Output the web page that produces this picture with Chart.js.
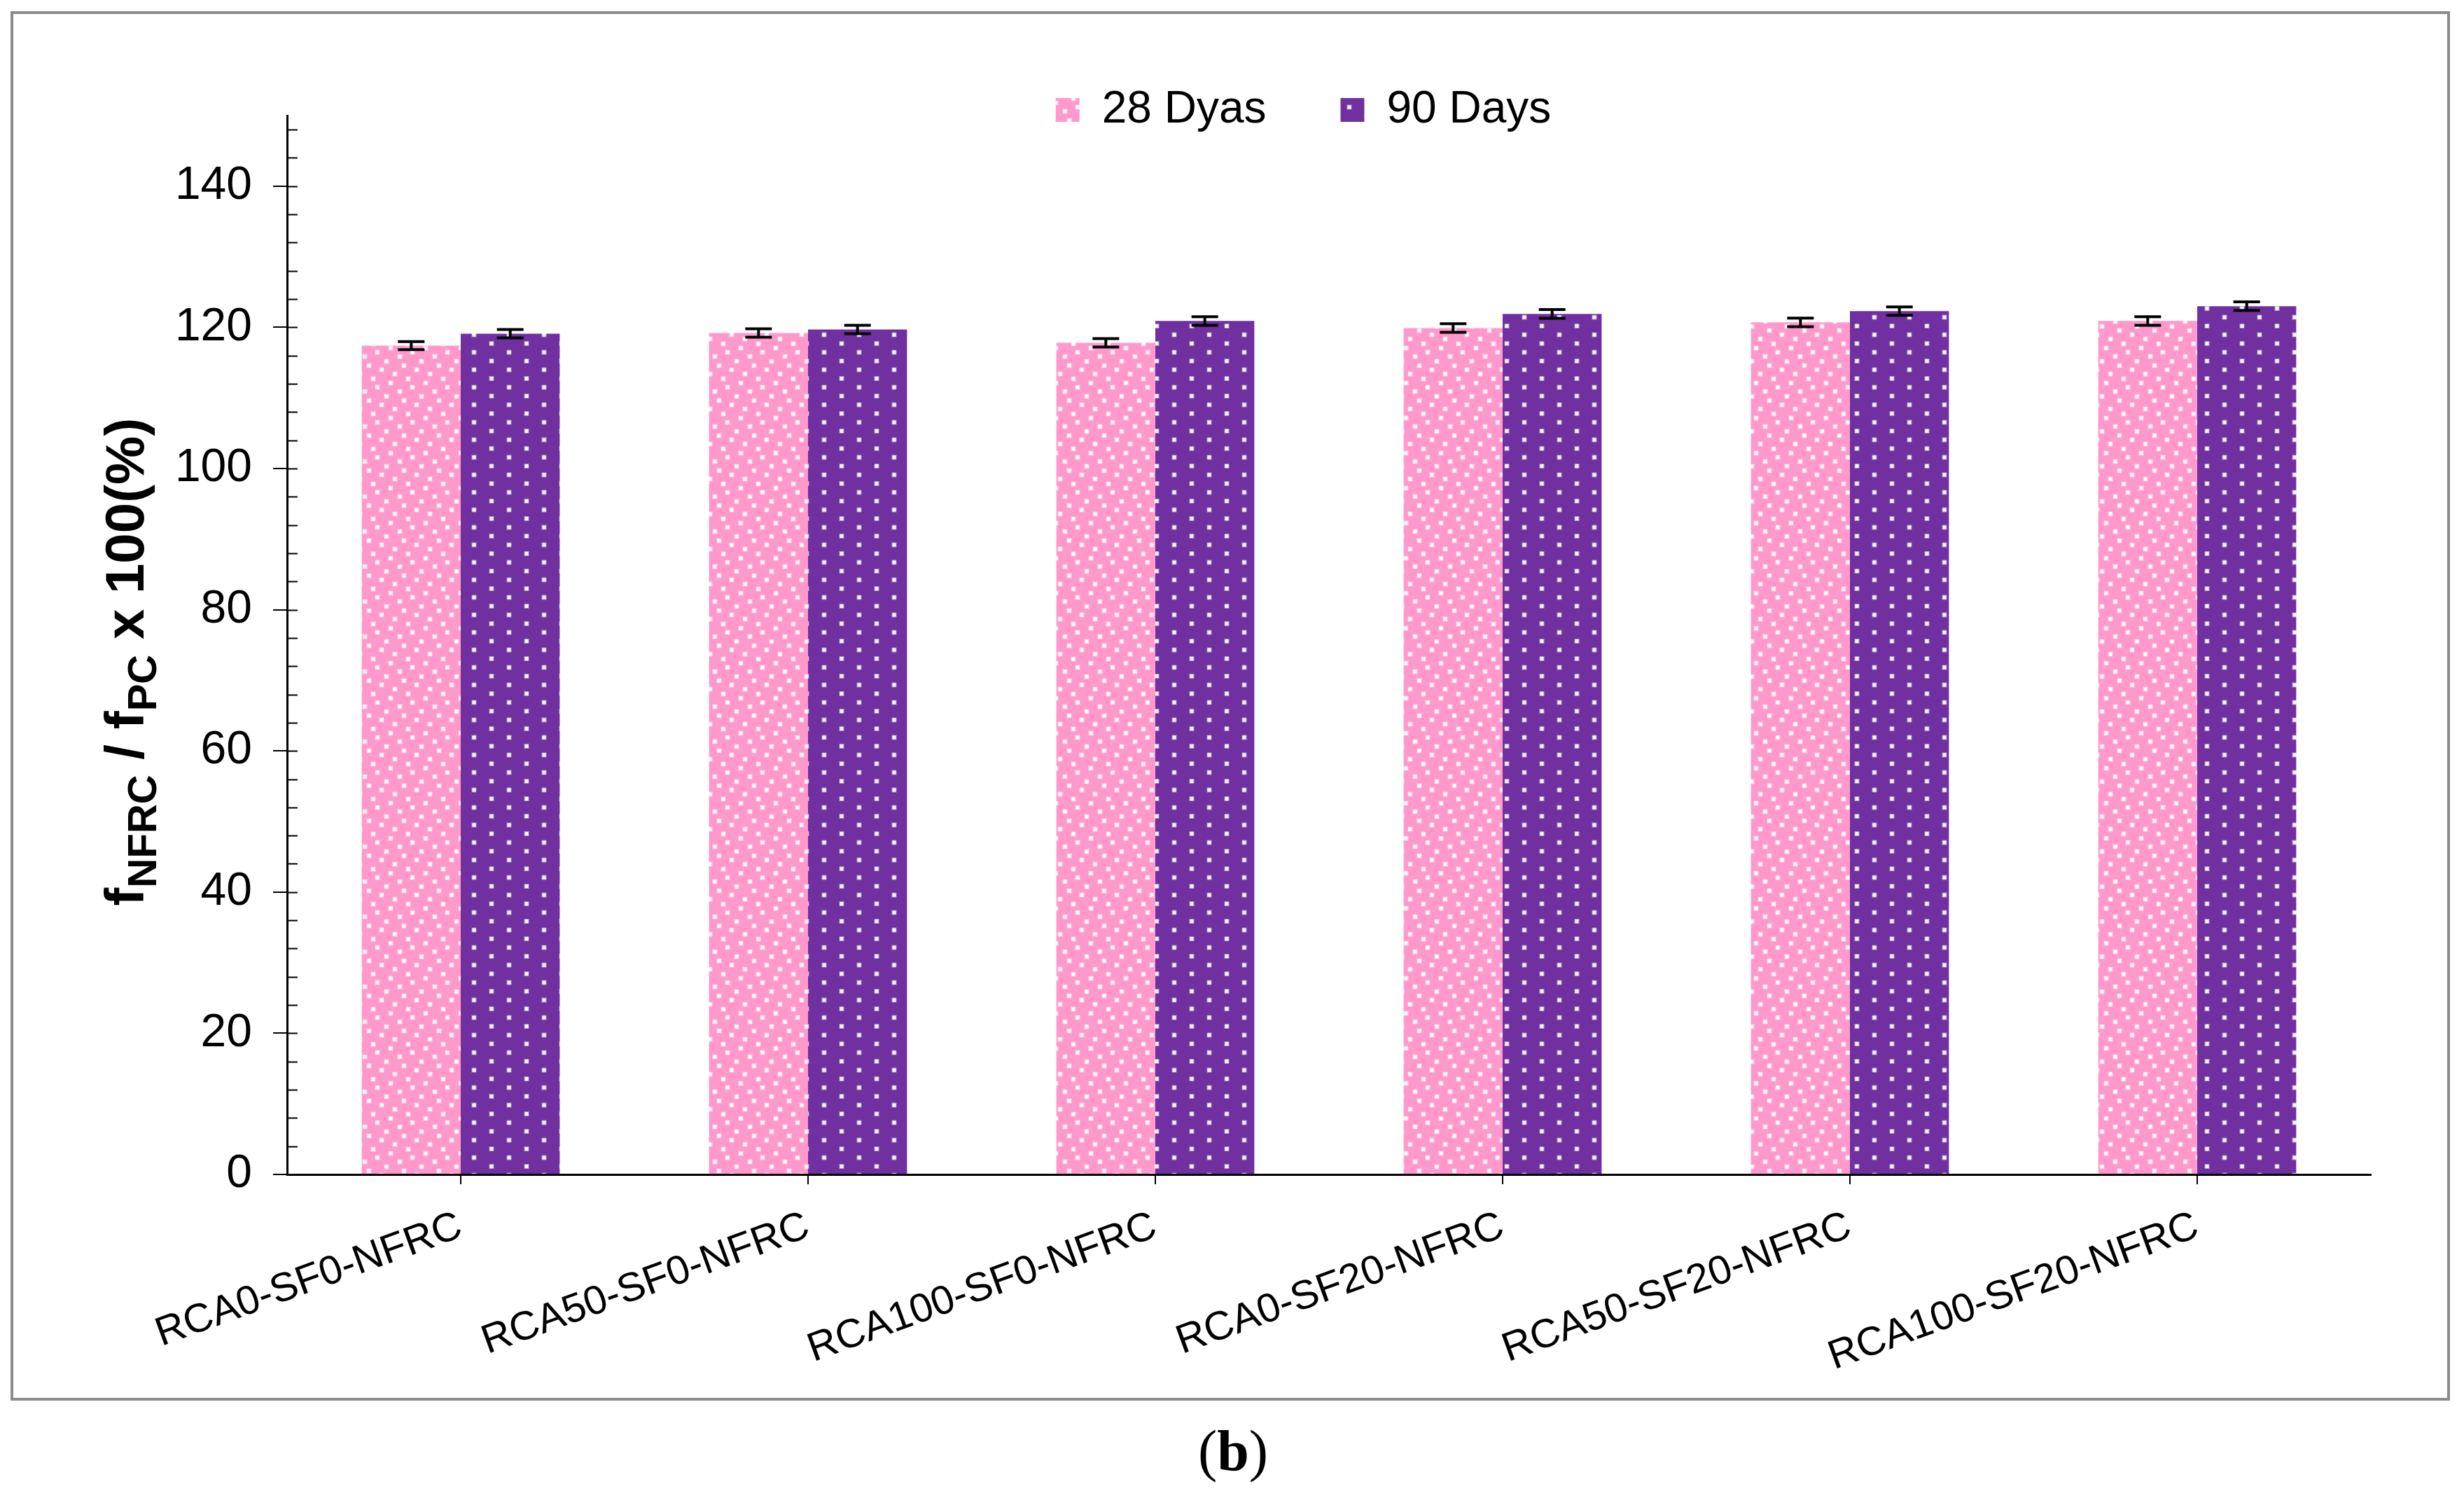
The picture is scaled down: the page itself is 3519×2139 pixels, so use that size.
<!DOCTYPE html>
<html>
<head>
<meta charset="utf-8">
<script src="https://cdn.jsdelivr.net/npm/chart.js@4.4.1/dist/chart.umd.min.js"></script>
<style>
  html, body { margin: 0; padding: 0; background: #fff; }
  body { width: 3519px; height: 2139px; position: relative; overflow: hidden; }
  #frame { position: absolute; left: 15px; top: 16px; width: 3484px; height: 1984px;
           border: 4px solid #8c8c8c; box-sizing: border-box; }
  #chart { position: absolute; left: 0; top: 0; }
  #caption { position: absolute; left: 0; width: 3522px; top: 2031px; text-align: center;
             font-family: "Liberation Serif", "DejaVu Serif", serif; font-size: 82px; line-height: 82px; }
</style>
</head>
<body>
<div id="frame"></div>
<canvas id="chart" width="3519" height="2139"></canvas>
<div id="caption">(<b>b</b>)</div>
<script>
// Data
const categories = ['RCA0-SF0-NFRC', 'RCA50-SF0-NFRC', 'RCA100-SF0-NFRC', 'RCA0-SF20-NFRC', 'RCA50-SF20-NFRC', 'RCA100-SF20-NFRC'];
const days28 = [117.4, 119.2, 117.8, 119.9, 120.7, 120.9];
const days90 = [119.1, 119.7, 120.9, 121.9, 122.3, 123.0];
const err28 = [0.57, 0.6, 0.6, 0.6, 0.6, 0.6];
const err90 = [0.6, 0.6, 0.6, 0.63, 0.6, 0.6];
const seriesLabels = ['28 Dyas', '90 Days'];

const PINK = '#ff99cc';
const PURPLE = '#7030a0';
const FONT = '"Liberation Sans", Arial, sans-serif';

// dotted fills like the Excel pattern
function dot(c, x, y) {
    c.fillStyle = 'rgba(255,255,255,0.45)';
    c.fillRect(x - 3.5, y - 3.5, 7, 7);
    c.fillStyle = 'rgba(255,255,255,0.95)';
    c.fillRect(x - 2.5, y - 2.5, 5, 5);
}

function makePattern(w, h, color, dots) {
    const cv = document.createElement('canvas');
    cv.width = w;
    cv.height = h;
    const c = cv.getContext('2d');
    c.fillStyle = color;
    c.fillRect(0, 0, w, h);
    dots.forEach(d => {
        // wrapped copies so edge dots tile cleanly
        [-w, 0, w].forEach(ox => [-h, 0, h].forEach(oy => dot(c, d[0] + ox, d[1] + oy)));
    });
    return c.createPattern(cv, 'repeat');
}

const ctx = document.getElementById('chart').getContext('2d');
const pinkFill = makePattern(50, 50, PINK, [[39, 3], [21, 9], [2, 16], [27, 22], [45, 28], [14, 34], [33, 41], [8, 47]]);
const purpleFill = makePattern(50, 25, PURPLE, [[27, 3], [2, 15.5]]);

// error bars from the err arrays
const errorBars = {
    id: 'errorBars',
    afterDatasetsDraw(chart) {
        const c = chart.ctx;
        const y = chart.scales.y;
        [err28, err90].forEach((errs, di) => {
            const vals = chart.data.datasets[di].data;
            chart.getDatasetMeta(di).data.forEach((bar, i) => {
                const top = y.getPixelForValue(vals[i] + errs[i]);
                const bot = y.getPixelForValue(vals[i] - errs[i]);
                c.save();
                c.strokeStyle = '#000';
                c.lineWidth = 4;
                c.beginPath();
                c.moveTo(bar.x, top);
                c.lineTo(bar.x, bot);
                c.moveTo(bar.x - 19, top);
                c.lineTo(bar.x + 19, top);
                c.moveTo(bar.x - 19, bot);
                c.lineTo(bar.x + 19, bot);
                c.stroke();
                c.restore();
            });
        });
    }
};

// inside tick marks on the y axis every 4 units
const innerTicks = {
    id: 'innerTicks',
    afterDraw(chart) {
        const c = chart.ctx;
        const y = chart.scales.y;
        const x0 = chart.chartArea.left;
        c.save();
        c.strokeStyle = '#000';
        c.lineWidth = 2;
        c.beginPath();
        for (let v = 4; v < 150; v += 4) {
            const py = Math.round(y.getPixelForValue(v)) + 0.5;
            c.moveTo(x0, py);
            c.lineTo(x0 + 15, py);
        }
        c.stroke();
        c.restore();
    }
};

// rotated y title with subscripts
const yTitle = {
    id: 'yTitle',
    afterDraw(chart) {
        const c = chart.ctx;
        const mainFont = 'bold 78px ' + FONT;
        const subFont = 'bold 58px ' + FONT;
        const parts = [['f', 0], ['NFRC', 1], [' / f', 0], ['PC', 1], [' x 100(%)', 0]];
        c.save();
        c.translate(205, 945);
        c.rotate(-Math.PI / 2);
        c.fillStyle = '#000';
        c.textBaseline = 'alphabetic';
        let total = 0;
        parts.forEach(p => { c.font = p[1] ? subFont : mainFont; total += c.measureText(p[0]).width; });
        let x = -total / 2;
        parts.forEach(p => {
            c.font = p[1] ? subFont : mainFont;
            c.fillText(p[0], x, p[1] ? 18 : 0);
            x += c.measureText(p[0]).width;
        });
        c.restore();
    }
};

// the legend sits partly over the plot top, so let it draw past its own box
const legendRoom = {
    id: 'legendRoom',
    afterLayout(chart) {
        chart.legend.bottom += 60;
        chart.legend.height += 60;
    }
};

const chart = new Chart(ctx, {
    type: 'bar',
    data: {
        labels: categories,
        datasets: [{
            label: seriesLabels[0],
            data: days28,
            backgroundColor: pinkFill,
            borderWidth: 0
        }, {
            label: seriesLabels[1],
            data: days90,
            backgroundColor: purpleFill,
            borderWidth: 0
        }]
    },
    options: {
        responsive: false,
        animation: false,
        devicePixelRatio: 1,
        layout: { padding: { left: 204, right: 0, top: 19, bottom: 162 } },
        datasets: { bar: { categoryPercentage: 0.57, barPercentage: 1.0 } },
        plugins: {
            legend: {
                position: 'top',
                maxHeight: 146,
                labels: {
                    boxWidth: 34,
                    boxHeight: 34,
                    padding: 106,
                    color: '#000',
                    font: { family: FONT, size: 64 }
                }
            },
            tooltip: { enabled: false }
        },
        scales: {
            x: {
                afterFit(s) { s.height = 300; s.paddingLeft = 0; s.paddingRight = 0; },
                grid: { offset: false, drawOnChartArea: false, tickLength: 14, color: '#000', lineWidth: 2 },
                border: { color: '#000', width: 3 },
                ticks: {
                    autoSkip: false,
                    minRotation: 20,
                    maxRotation: 20,
                    padding: 26,
                    color: '#000',
                    font: { family: FONT, size: 58 }
                }
            },
            y: {
                min: 0,
                max: 150,
                afterFit(s) { s.width = 206; s.paddingTop = 0; s.paddingBottom = 0; },
                grid: { drawOnChartArea: false, tickLength: 20, color: '#000', lineWidth: 2 },
                border: { color: '#000', width: 3 },
                ticks: {
                    stepSize: 20,
                    includeBounds: false,
                    padding: 30,
                    color: '#000',
                    font: { family: FONT, size: 66 }
                }
            },
            // empty spacer on the right so the plot ends where the picture's does
            spacer: {
                axis: 'y',
                position: 'right',
                afterFit(s) { s.width = 133; s.paddingTop = 0; s.paddingBottom = 0; },
                grid: { display: false },
                border: { display: false },
                ticks: { display: false }
            }
        }
    },
    plugins: [errorBars, innerTicks, yTitle, legendRoom]
});
</script>
</body>
</html>
